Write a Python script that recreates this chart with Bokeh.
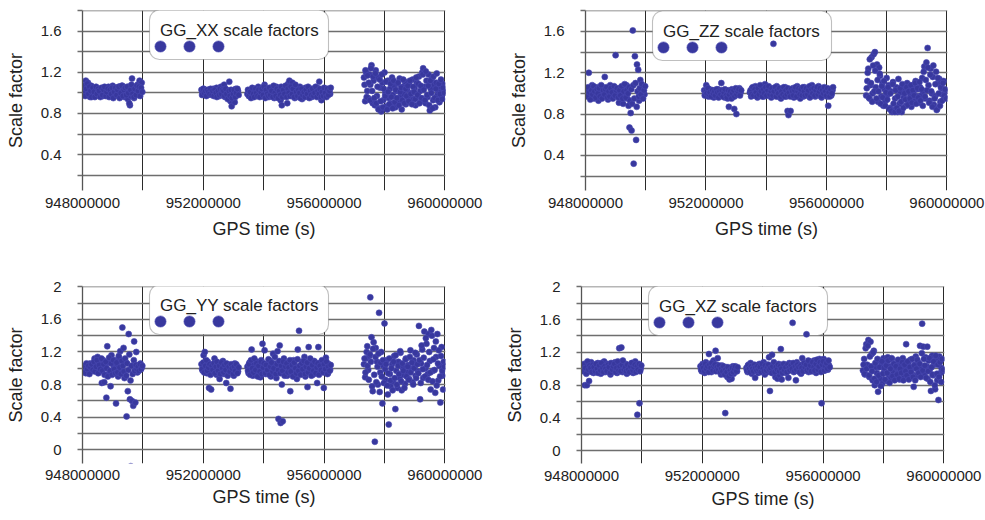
from bokeh.plotting import figure
from bokeh.layouts import column, row
from bokeh.models import (ColumnDataSource, FixedTicker, BasicTickFormatter, Legend,
                          LegendItem, Label, BoxAnnotation, Range1d)
from bokeh.embed import file_html
from bokeh.resources import INLINE

FONT = "Liberation Sans"
TEXT = "#222222"
DOT_FILL = "#38389e"
DOT_LINE = "#4a4ab2"

# ---------------- data ----------------
# GPS time of each scale-factor estimate, in units of 1e6 s.
# Four data segments (a-d), each with two interleaved sets of estimates.
time_a = [948.04, 948.08, 948.11, 948.15, 948.18, 948.22, 948.25, 948.29, 948.32, 948.36,
          948.40, 948.43, 948.47, 948.50, 948.54, 948.57, 948.61, 948.64, 948.68, 948.72,
          948.75, 948.79, 948.82, 948.86, 948.89, 948.93, 948.96, 949.00, 949.04, 949.07,
          949.11, 949.14, 949.18, 949.21, 949.25, 949.28, 949.32, 949.36, 949.39, 949.43,
          949.46, 949.50, 949.53, 949.57, 949.60, 949.64, 949.68, 949.71, 949.75, 949.78,
          949.82, 949.85, 949.89, 949.92, 949.96]
time_b = [951.94, 951.98, 952.01, 952.05, 952.08, 952.12, 952.15, 952.19, 952.22, 952.26,
          952.30, 952.33, 952.37, 952.40, 952.44, 952.47, 952.51, 952.54, 952.58, 952.62,
          952.65, 952.69, 952.72, 952.76, 952.79, 952.83, 952.86, 952.90, 952.94, 952.97,
          953.01, 953.04, 953.08, 953.11, 953.15]
time_c = [953.46, 953.50, 953.53, 953.57, 953.60, 953.64, 953.67, 953.71, 953.75, 953.78,
          953.82, 953.85, 953.89, 953.92, 953.96, 953.99, 954.03, 954.07, 954.10, 954.14,
          954.17, 954.21, 954.24, 954.28, 954.31, 954.35, 954.39, 954.42, 954.46, 954.49,
          954.53, 954.56, 954.60, 954.63, 954.67, 954.71, 954.74, 954.78, 954.81, 954.85,
          954.88, 954.92, 954.95, 954.99, 955.03, 955.06, 955.10, 955.13, 955.17, 955.20,
          955.24, 955.27, 955.31, 955.35, 955.38, 955.42, 955.45, 955.49, 955.52, 955.56,
          955.59, 955.63, 955.67, 955.70, 955.74, 955.77, 955.81, 955.84, 955.88, 955.91,
          955.95, 955.99, 956.02, 956.06, 956.09, 956.13, 956.16, 956.20]
time_d = [957.32, 957.36, 957.39, 957.43, 957.46, 957.50, 957.53, 957.57, 957.61, 957.64,
          957.68, 957.71, 957.75, 957.78, 957.82, 957.86, 957.89, 957.93, 957.96, 958.00,
          958.03, 958.07, 958.11, 958.14, 958.18, 958.21, 958.25, 958.28, 958.32, 958.36,
          958.39, 958.43, 958.46, 958.50, 958.53, 958.57, 958.61, 958.64, 958.68, 958.71,
          958.75, 958.78, 958.82, 958.86, 958.89, 958.93, 958.96, 959.00, 959.03, 959.07,
          959.11, 959.14, 959.18, 959.21, 959.25, 959.28, 959.32, 959.36, 959.39, 959.43,
          959.46, 959.50, 959.53, 959.57, 959.61, 959.64, 959.68, 959.71, 959.75, 959.78,
          959.82, 959.85, 959.89, 959.92, 959.96]
time_a2 = [948.06, 948.09, 948.13, 948.16, 948.20, 948.23, 948.27, 948.30, 948.34, 948.38,
           948.41, 948.45, 948.48, 948.52, 948.55, 948.59, 948.63, 948.66, 948.70, 948.73,
           948.77, 948.80, 948.84, 948.88, 948.91, 948.95, 948.98, 949.02, 949.05, 949.09,
           949.13, 949.16, 949.20, 949.23, 949.27, 949.30, 949.34, 949.37, 949.41, 949.45,
           949.48, 949.52, 949.55, 949.59, 949.62, 949.66, 949.70, 949.73, 949.77, 949.80,
           949.84, 949.87, 949.91, 949.94, 949.98]
time_b2 = [951.96, 952.00, 952.03, 952.07, 952.10, 952.13, 952.17, 952.21, 952.24, 952.28,
           952.31, 952.35, 952.38, 952.42, 952.45, 952.49, 952.53, 952.56, 952.60, 952.63,
           952.67, 952.70, 952.74, 952.77, 952.81, 952.85, 952.88, 952.92, 952.95, 952.99,
           953.02, 953.06, 953.09, 953.13, 953.17]
time_c2 = [953.48, 953.51, 953.55, 953.58, 953.62, 953.66, 953.69, 953.73, 953.76, 953.80,
           953.83, 953.87, 953.91, 953.94, 953.98, 954.01, 954.05, 954.08, 954.12, 954.16,
           954.19, 954.22, 954.26, 954.30, 954.33, 954.37, 954.40, 954.44, 954.48, 954.51,
           954.55, 954.58, 954.62, 954.65, 954.69, 954.72, 954.76, 954.80, 954.83, 954.87,
           954.90, 954.94, 954.97, 955.01, 955.05, 955.08, 955.12, 955.15, 955.19, 955.22,
           955.26, 955.29, 955.33, 955.37, 955.40, 955.44, 955.47, 955.51, 955.54, 955.58,
           955.61, 955.65, 955.69, 955.72, 955.76, 955.79, 955.83, 955.86, 955.90, 955.93,
           955.97, 956.00, 956.04, 956.08, 956.11, 956.14, 956.18, 956.22]
time_d2 = [957.34, 957.37, 957.41, 957.44, 957.48, 957.52, 957.55, 957.59, 957.62, 957.66,
           957.70, 957.73, 957.77, 957.80, 957.84, 957.87, 957.91, 957.95, 957.98, 958.02,
           958.05, 958.09, 958.12, 958.16, 958.20, 958.23, 958.27, 958.30, 958.34, 958.37,
           958.41, 958.45, 958.48, 958.52, 958.55, 958.59, 958.62, 958.66, 958.70, 958.73,
           958.77, 958.80, 958.84, 958.87, 958.91, 958.95, 958.98, 959.02, 959.05, 959.09,
           959.12, 959.16, 959.20, 959.23, 959.27, 959.30, 959.34, 959.37, 959.41, 959.45,
           959.48, 959.52, 959.55, 959.59, 959.62, 959.66, 959.70, 959.73, 959.77, 959.80,
           959.84, 959.87, 959.91, 959.94, 959.98]

# GG_XX scale factors
xx_a = [1.00, 1.05, 1.12, 0.98, 1.10, 1.03, 0.96, 1.07, 1.01, 0.99,
        1.04, 0.97, 1.02, 1.00, 0.98, 1.01, 0.99, 1.03, 0.97, 1.00,
        1.02, 1.05, 0.98, 1.06, 1.00, 1.04, 0.97, 1.07, 1.02, 0.99,
        1.05, 1.01, 0.97, 1.06, 1.03, 0.99, 1.07, 1.00, 0.96, 1.04,
        1.02, 0.94, 1.06, 0.88, 0.97, 1.14, 1.03, 0.95, 1.05, 1.00,
        1.08, 0.98, 1.12, 1.03, 1.10]
xx_b = [1.03, 1.00, 1.04, 0.99, 1.02, 1.01, 0.98, 1.03, 1.00, 1.02,
        0.99, 1.04, 1.01, 0.98, 1.05, 1.00, 1.03, 0.97, 1.06, 1.01,
        0.99, 1.08, 0.96, 1.03, 1.00, 0.95, 1.11, 0.92, 0.87, 1.02,
        0.98, 0.91, 1.04, 0.99, 1.02]
xx_c = [0.99, 1.02, 0.97, 1.03, 1.00, 0.96, 1.04, 1.01, 0.98, 1.02,
        1.06, 0.99, 1.03, 0.97, 1.05, 1.00, 1.08, 0.98, 1.02, 1.04,
        0.96, 1.01, 1.05, 0.99, 1.03, 0.95, 1.02, 1.06, 0.98, 1.00,
        1.04, 0.93, 0.88, 1.01, 0.97, 1.05, 1.02, 0.90, 1.09, 1.12,
        1.03, 0.97, 1.10, 1.00, 0.95, 1.04, 0.99, 1.02, 0.96, 1.06,
        1.00, 0.94, 1.03, 0.98, 1.05, 1.01, 0.97, 1.02, 0.99, 1.04,
        0.96, 1.01, 1.03, 0.98, 1.00, 1.05, 0.97, 1.11, 1.02, 0.93,
        1.01, 0.99, 1.04, 0.97, 1.02, 1.00, 1.03, 0.99]
xx_d = [1.15, 0.92, 1.20, 1.02, 0.95, 1.18, 1.08, 1.27, 0.90, 1.12,
        0.88, 1.22, 0.97, 1.15, 0.85, 1.05, 0.82, 1.10, 0.93, 1.20,
        1.00, 0.87, 1.12, 0.95, 1.04, 0.90, 1.15, 0.98, 1.07, 0.86,
        1.02, 1.09, 0.92, 1.14, 0.97, 0.84, 1.06, 0.99, 1.11, 0.89,
        1.03, 0.95, 1.08, 0.91, 1.00, 1.13, 0.94, 1.05, 0.88, 1.10,
        0.97, 1.16, 1.02, 0.92, 1.20, 1.24, 1.06, 0.90, 1.12, 0.96,
        1.18, 0.83, 1.04, 1.14, 0.93, 1.08, 0.86, 1.10, 0.98, 1.02,
        0.91, 1.06, 0.97, 1.09, 1.01]
xx_a2 = [1.07, 0.97, 1.04, 1.09, 0.99, 1.06, 1.02, 0.96, 1.05, 1.01,
         0.96, 1.06, 0.99, 1.04, 1.02, 0.96, 1.05, 0.98, 1.03, 1.06,
         0.97, 1.01, 1.04, 0.96, 1.03, 0.99, 1.05, 0.95, 1.01, 1.05,
         0.98, 1.03, 1.06, 0.95, 1.00, 1.07, 0.97, 1.03, 1.05, 0.98,
         1.06, 1.00, 0.90, 1.03, 1.08, 0.99, 0.96, 1.04, 0.98, 1.07,
         1.02, 1.06, 0.97, 1.05, 1.01]
xx_b2 = [0.98, 1.04, 1.00, 1.02, 0.97, 1.03, 1.01, 0.99, 1.04, 0.98,
         1.02, 0.97, 1.03, 1.00, 0.96, 1.02, 0.98, 1.04, 0.99, 1.03,
         1.02, 0.97, 1.04, 0.99, 0.94, 1.02, 0.97, 1.03, 0.95, 0.99,
         1.03, 0.96, 1.00, 1.04, 0.98]
xx_c2 = [1.03, 0.97, 1.01, 0.95, 1.05, 0.99, 0.96, 1.04, 1.00, 0.97,
         1.03, 0.96, 1.01, 1.04, 0.98, 1.06, 0.95, 1.03, 0.99, 0.97,
         1.05, 0.98, 1.02, 0.96, 1.07, 1.00, 0.97, 1.04, 0.95, 1.02,
         0.98, 1.06, 0.96, 1.03, 0.99, 1.07, 0.96, 1.04, 1.00, 0.97,
         1.06, 0.99, 1.04, 0.96, 1.08, 1.01, 0.97, 1.03, 1.00, 0.95,
         1.04, 0.98, 1.01, 0.96, 1.03, 0.99, 1.06, 0.95, 1.02, 0.98,
         1.04, 0.97, 1.00, 1.06, 0.96, 1.02, 0.99, 1.04, 0.96, 1.01,
         0.97, 1.05, 1.00, 0.96, 1.04, 0.98, 1.02, 1.05]
xx_d2 = [1.08, 1.22, 0.96, 1.17, 1.10, 0.93, 1.24, 1.02, 1.16, 0.95,
         1.19, 0.90, 1.06, 0.84, 1.13, 0.92, 1.18, 0.86, 1.04, 0.97,
         1.11, 0.84, 1.01, 0.89, 1.09, 0.96, 0.85, 1.12, 0.91, 1.03,
         0.95, 1.10, 0.88, 1.01, 1.05, 0.93, 1.13, 0.90, 1.04, 0.97,
         1.07, 0.92, 1.12, 0.99, 0.89, 1.06, 1.01, 0.94, 1.15, 0.98,
         1.09, 0.90, 1.07, 0.95, 1.18, 1.03, 0.93, 1.21, 0.98, 1.07,
         0.88, 1.12, 1.00, 0.85, 1.16, 0.95, 1.04, 1.19, 0.93, 1.09,
         0.99, 1.13, 0.94, 1.05, 1.00]

# GG_ZZ scale factors
zz_a = [1.02, 0.98, 1.20, 1.05, 0.97, 1.08, 1.01, 0.95, 1.04, 0.99,
        1.06, 0.93, 1.02, 1.00, 1.07, 0.97, 1.03, 1.16, 0.99, 1.05,
        0.94, 1.01, 1.08, 0.96, 1.03, 1.00, 1.06, 1.37, 0.98, 1.02,
        0.91, 1.05, 0.99, 1.04, 0.90, 1.01, 0.97, 1.08, 0.95, 0.88,
        0.67, 0.81, 0.64, 1.61, 0.32, 1.36, 0.55, 1.28, 1.23, 0.93,
        1.13, 0.97, 1.05, 1.01, 0.99]
zz_b = [1.03, 0.99, 1.08, 1.01, 0.97, 1.04, 1.00, 0.98, 1.03, 0.96,
        1.02, 1.00, 0.97, 1.04, 0.99, 1.01, 1.10, 0.98, 1.03, 0.96,
        1.00, 1.02, 0.95, 0.87, 1.01, 0.98, 1.04, 0.97, 0.85, 1.00,
        0.80, 1.03, 0.99, 1.05, 1.01]
zz_c = [1.01, 0.97, 1.05, 1.02, 0.99, 1.07, 1.00, 0.96, 1.04, 1.01,
        0.98, 1.06, 1.02, 0.97, 1.09, 1.00, 1.03, 0.98, 1.05, 1.01,
        0.96, 1.04, 1.48, 0.99, 1.02, 1.07, 0.97, 1.03, 1.00, 0.95,
        1.04, 0.98, 1.01, 1.06, 0.97, 0.83, 0.79, 1.02, 0.83, 0.99,
        1.05, 0.96, 1.03, 1.00, 1.07, 0.98, 1.02, 0.95, 1.04, 1.01,
        0.97, 1.06, 1.00, 1.03, 0.98, 1.05, 0.96, 1.02, 1.08, 0.99,
        1.01, 0.97, 1.04, 1.00, 1.07, 0.98, 1.03, 0.96, 1.05, 1.01,
        0.99, 1.04, 0.97, 0.88, 1.02, 1.00, 0.98, 1.03]
zz_d = [0.98, 1.12, 1.24, 0.95, 1.08, 1.35, 1.00, 1.38, 1.40, 1.06,
        1.28, 0.92, 1.25, 1.17, 0.97, 1.10, 0.88, 1.04, 0.93, 1.15,
        0.99, 1.08, 0.86, 1.02, 0.82, 1.11, 0.84, 0.95, 1.06, 0.82,
        1.14, 0.90, 1.01, 0.82, 1.07, 0.96, 1.03, 0.88, 1.10, 0.94,
        1.05, 0.99, 0.87, 1.08, 1.01, 0.93, 1.12, 0.97, 1.04, 0.91,
        1.06, 0.98, 1.15, 1.02, 1.26, 0.95, 1.30, 1.44, 1.08, 0.93,
        1.24, 1.00, 1.16, 0.89, 0.97, 1.21, 0.85, 1.10, 1.14, 0.92,
        1.05, 0.99, 1.12, 0.96, 1.02]
zz_a2 = [0.97, 1.06, 1.01, 0.94, 1.03, 0.99, 1.07, 1.02, 0.96, 1.04,
         1.00, 1.05, 0.97, 1.08, 0.95, 1.03, 0.99, 1.04, 1.06, 0.96,
         1.02, 0.97, 1.05, 1.01, 0.95, 1.07, 0.98, 1.03, 1.05, 0.96,
         1.03, 0.98, 1.07, 0.95, 1.02, 1.09, 0.96, 1.03, 1.00, 1.06,
         0.93, 1.04, 0.90, 1.08, 0.95, 1.10, 0.87, 1.02, 0.97, 1.05,
         0.99, 1.09, 0.95, 1.03, 1.07]
zz_b2 = [0.98, 1.02, 1.00, 1.05, 0.99, 1.01, 0.97, 1.03, 1.00, 1.02,
         0.98, 1.04, 1.01, 0.96, 1.02, 0.99, 1.03, 0.97, 1.01, 1.04,
         0.98, 0.96, 1.03, 0.99, 1.02, 0.95, 1.00, 1.03, 0.97, 1.05,
         0.99, 1.02, 1.04, 0.98, 1.03]
zz_c2 = [1.03, 0.99, 1.06, 0.98, 1.04, 1.01, 0.97, 1.05, 0.99, 1.08,
         1.02, 0.97, 1.04, 1.00, 1.06, 0.98, 1.03, 1.07, 0.99, 1.02,
         1.05, 0.98, 1.02, 1.06, 0.97, 1.03, 1.00, 1.05, 0.97, 1.02,
         0.99, 1.06, 0.97, 1.03, 0.99, 1.05, 1.01, 0.97, 1.04, 1.02,
         0.98, 1.03, 1.06, 0.97, 1.02, 1.05, 0.99, 1.04, 0.98, 1.06,
         1.02, 0.98, 1.05, 0.99, 1.03, 1.07, 0.97, 1.04, 1.00, 1.05,
         0.98, 1.03, 1.06, 0.99, 1.02, 1.05, 0.97, 1.03, 1.00, 1.06,
         1.02, 0.98, 1.05, 1.01, 0.97, 1.04, 1.00, 1.06]
zz_d2 = [1.05, 1.20, 0.96, 1.33, 1.10, 0.92, 1.27, 1.02, 1.22, 0.95,
         1.13, 1.02, 1.19, 0.90, 1.07, 0.96, 1.12, 0.88, 1.01, 0.94,
         1.06, 0.85, 1.00, 0.83, 1.09, 0.90, 0.82, 1.03, 0.86, 0.97,
         0.83, 1.05, 0.92, 1.09, 0.86, 1.00, 0.94, 1.06, 0.89, 1.02,
         0.95, 1.08, 0.91, 1.03, 0.98, 1.10, 0.90, 1.05, 0.96, 1.11,
         0.93, 1.04, 0.88, 1.21, 0.97, 1.13, 1.03, 1.25, 0.91, 1.18,
         1.02, 0.87, 1.27, 0.95, 1.09, 0.84, 1.15, 1.00, 0.88, 1.06,
         0.93, 1.10, 0.98, 1.04, 0.95]

# GG_YY scale factors
yy_a = [0.98, 1.03, 0.94, 1.05, 1.00, 0.96, 1.06, 1.01, 0.97, 1.04,
        1.12, 0.99, 1.05, 1.14, 0.95, 1.08, 1.02, 0.82, 1.10, 0.83,
        1.04, 0.64, 1.27, 0.93, 1.07, 0.78, 1.16, 0.96, 1.02, 1.10,
        0.57, 1.05, 0.90, 1.13, 1.21, 0.97, 1.50, 1.25, 0.88, 1.08,
        0.41, 0.72, 1.42, 0.62, -0.20, 0.60, 0.54, 1.33, 0.58, 1.20,
        0.95, 1.04, 0.99, 1.06, 1.01]
yy_b = [1.05, 0.97, 1.16, 1.20, 1.02, 0.94, 1.08, 0.76, 1.00, 0.74,
        1.04, 0.96, 1.12, 0.99, 0.92, 1.06, 1.01, 0.87, 1.03, 0.97,
        1.09, 0.93, 1.00, 0.82, 1.05, 0.95, 1.02, 0.75, 0.98, 1.04,
        0.91, 1.06, 0.99, 1.03, 0.96]
yy_c = [1.02, 0.94, 1.07, 0.98, 1.23, 0.91, 1.04, 1.00, 0.95, 1.08,
        0.97, 1.03, 0.89, 1.10, 1.30, 0.99, 1.22, 0.93, 1.05, 1.01,
        0.96, 1.09, 0.90, 1.04, 1.18, 0.98, 1.06, 0.88, 1.21, 0.38,
        1.28, 0.33, 0.80, 0.35, 1.12, 0.95, 1.03, 0.91, 1.07, 0.99,
        0.72, 1.05, 0.93, 1.10, 0.97, 1.02, 0.87, 1.23, 1.46, 1.00,
        0.94, 1.08, 0.98, 1.14, 0.90, 1.03, 0.77, 1.26, 0.96, 1.06,
        1.01, 0.92, 1.09, 0.97, 1.04, 0.82, 1.26, 0.95, 1.07, 0.99,
        1.03, 0.76, 0.96, 1.13, 1.00, 0.94, 1.05, 0.98]
yy_d = [1.05, 0.89, 1.12, 1.27, 0.98, 1.15, 1.87, 1.38, 0.72, 1.32,
        0.10, 1.25, 1.08, 0.80, 1.68, 0.95, 1.20, 0.57, 1.03, 1.55,
        0.86, 1.10, 0.68, 0.31, 0.93, 0.78, 1.05, 0.84, 1.15, 0.50,
        0.97, 0.76, 1.08, 0.88, 1.19, 0.73, 1.01, 0.92, 0.81, 1.12,
        0.95, 1.04, 0.87, 1.22, 0.99, 0.83, 1.10, 1.02, 0.91, 1.17,
        0.96, 1.52, 0.62, 1.06, 1.23, 0.88, 1.45, 1.00, 1.30, 0.93,
        1.42, 1.09, 0.74, 1.40, 0.97, 1.25, 0.70, 1.14, 1.42, 0.85,
        1.03, 0.58, 1.26, 0.91, 1.08]
yy_a2 = [1.02, 0.95, 1.06, 0.99, 1.03, 0.93, 1.01, 1.05, 0.98, 1.08,
         0.96, 1.02, 1.10, 0.94, 1.04, 0.99, 1.12, 0.97, 1.05, 0.92,
         1.08, 1.00, 0.90, 1.13, 0.97, 1.06, 0.92, 1.10, 0.99, 0.94,
         1.07, 0.95, 1.15, 1.01, 0.93, 1.09, 1.03, 0.96, 1.12, 0.91,
         1.06, 0.98, 1.17, 0.85, 1.03, 0.93, 1.10, 0.97, 1.04, 0.99,
         1.02, 0.97, 1.05, 0.99, 1.03]
yy_b2 = [0.99, 1.07, 0.95, 1.03, 1.10, 0.97, 1.01, 1.05, 0.92, 1.03,
         0.98, 1.06, 0.94, 1.02, 1.08, 0.97, 1.03, 0.93, 1.07, 1.00,
         0.95, 1.04, 0.98, 1.06, 0.91, 1.02, 0.96, 1.05, 1.00, 0.93,
         1.02, 0.97, 1.05, 0.94, 1.01]
yy_c2 = [0.97, 1.05, 0.92, 1.10, 1.00, 0.95, 1.12, 0.98, 1.06, 0.90,
         1.03, 0.96, 1.08, 0.93, 1.01, 1.06, 0.94, 1.04, 0.98, 1.11,
         0.92, 1.02, 1.07, 0.96, 1.00, 1.14, 0.93, 1.05, 0.98, 1.09,
         0.94, 1.03, 0.97, 1.08, 0.91, 1.02, 1.06, 0.95, 1.01, 1.10,
         0.96, 1.04, 0.90, 1.07, 1.00, 0.94, 1.11, 0.97, 1.03, 0.92,
         1.06, 0.99, 1.09, 0.93, 1.02, 1.07, 0.95, 1.00, 1.12, 0.91,
         1.04, 0.97, 1.08, 0.94, 1.01, 1.06, 0.92, 1.03, 0.98, 1.10,
         0.95, 1.05, 0.99, 1.08, 0.93, 1.02, 0.97, 1.04]
yy_d2 = [1.12, 0.95, 1.20, 1.03, 0.86, 1.17, 1.08, 0.78, 1.24, 0.92,
         1.14, 0.83, 1.02, 1.18, 0.71, 1.07, 0.90, 1.10, 0.82, 0.99,
         1.05, 0.79, 0.94, 1.12, 0.85, 1.00, 0.73, 1.08, 0.88, 1.16,
         0.80, 1.03, 0.93, 1.21, 0.84, 1.06, 0.97, 0.76, 1.11, 0.90,
         1.02, 0.86, 1.14, 0.95, 1.07, 0.80, 1.00, 1.19, 0.88, 1.05,
         0.94, 1.10, 0.82, 1.28, 0.99, 1.13, 0.90, 1.37, 1.04, 0.86,
         1.20, 0.95, 1.47, 0.84, 1.11, 0.98, 1.33, 0.79, 1.06, 1.22,
         0.90, 1.15, 0.97, 0.74, 1.02]

# GG_XZ scale factors
xz_a = [1.02, 0.98, 0.80, 1.06, 0.80, 1.03, 0.85, 0.97, 1.08, 1.00,
        0.95, 1.04, 1.01, 0.97, 1.07, 0.99, 1.03, 0.94, 1.05, 1.00,
        1.09, 0.96, 1.02, 1.06, 0.98, 1.01, 0.93, 1.04, 1.00, 0.97,
        1.08, 1.02, 0.95, 1.05, 1.25, 1.00, 1.26, 0.96, 1.03, 0.99,
        1.06, 0.94, 1.01, 1.04, 0.97, 1.00, 1.07, 0.95, 1.02, 1.09,
        0.98, 0.44, 1.03, 0.58, 1.00]
xz_b = [1.03, 0.97, 1.06, 1.00, 0.95, 1.08, 1.01, 0.98, 1.18, 1.04,
        0.96, 1.02, 1.10, 0.99, 1.22, 1.05, 1.13, 0.97, 1.01, 0.93,
        1.04, 0.98, 0.95, 0.46, 1.02, 0.90, 0.96, 0.87, 1.00, 0.88,
        1.03, 0.94, 0.99, 1.01, 0.97]
xz_c = [1.01, 0.96, 1.05, 0.99, 1.07, 0.94, 1.02, 0.98, 0.89, 1.04,
        1.00, 0.95, 1.06, 0.97, 1.03, 0.99, 1.08, 0.93, 1.01, 1.05,
        0.96, 1.14, 0.73, 1.02, 1.17, 0.97, 1.04, 0.90, 1.00, 0.88,
        1.06, 0.92, 1.24, 0.87, 1.03, 0.98, 1.05, 0.95, 1.01, 0.89,
        1.07, 0.99, 1.04, 1.56, 0.96, 1.02, 0.86, 1.08, 1.00, 0.97,
        1.05, 0.94, 1.13, 1.01, 1.06, 0.98, 1.42, 1.03, 0.96, 1.09,
        1.00, 1.04, 0.97, 1.10, 1.02, 0.95, 1.07, 0.99, 1.12, 1.03,
        0.58, 1.05, 1.12, 0.98, 1.06, 1.01, 0.99, 1.04]
xz_d = [0.98, 1.12, 0.93, 1.30, 1.05, 1.35, 0.90, 1.33, 1.18, 0.86,
        1.22, 0.80, 1.02, 0.95, 0.72, 1.10, 0.88, 1.05, 0.82, 1.13,
        0.97, 1.08, 0.85, 1.14, 0.92, 1.03, 0.89, 1.12, 0.96, 1.06,
        0.90, 1.01, 0.94, 1.09, 0.87, 1.04, 0.98, 1.13, 0.91, 1.02,
        1.30, 0.95, 1.07, 0.89, 1.11, 0.99, 0.93, 0.78, 1.05, 1.15,
        0.92, 1.08, 0.96, 1.28, 1.01, 1.55, 1.27, 0.94, 1.14, 1.03,
        0.88, 1.10, 0.99, 0.73, 1.16, 0.92, 1.05, 0.75, 1.12, 0.86,
        0.62, 1.15, 0.95, 1.01, 0.97]
xz_a2 = [0.97, 1.06, 1.01, 0.94, 1.09, 0.99, 1.04, 1.01, 0.96, 1.05,
         1.02, 0.97, 1.06, 1.00, 0.95, 1.04, 0.98, 1.07, 1.01, 0.96,
         1.03, 1.00, 0.97, 1.05, 1.02, 0.95, 1.07, 0.99, 1.03, 1.06,
         0.96, 1.01, 1.09, 0.98, 1.03, 0.97, 1.05, 1.10, 0.99, 1.02,
         0.97, 1.05, 0.99, 0.96, 1.03, 1.07, 0.98, 1.02, 1.05, 0.96,
         1.03, 0.99, 1.06, 0.97, 1.04]
xz_b2 = [0.99, 1.04, 1.01, 0.97, 1.06, 1.00, 1.03, 0.96, 1.05, 1.01,
         1.07, 0.98, 1.03, 1.05, 0.97, 1.02, 0.99, 1.04, 0.96, 1.00,
         0.97, 1.03, 0.93, 0.99, 0.96, 1.02, 0.91, 0.98, 0.94, 1.01,
         0.96, 1.00, 1.03, 0.97, 1.02]
xz_c2 = [0.98, 1.04, 1.00, 0.96, 1.03, 1.00, 0.97, 1.05, 1.01, 0.98,
         1.03, 0.99, 1.02, 0.96, 1.06, 1.00, 0.97, 1.04, 0.98, 1.02,
         1.05, 0.99, 1.01, 0.95, 1.03, 1.08, 0.96, 1.02, 0.99, 1.05,
         0.97, 1.03, 1.00, 0.95, 1.06, 0.98, 1.02, 0.96, 1.05, 1.01,
         0.98, 1.04, 1.00, 1.07, 0.97, 1.03, 0.99, 1.05, 1.02, 0.96,
         1.04, 1.01, 0.97, 1.07, 1.02, 1.05, 0.98, 1.10, 1.00, 1.04,
         0.97, 1.08, 1.02, 0.98, 1.06, 1.11, 0.99, 1.03, 1.08, 0.96,
         1.05, 1.09, 0.98, 1.03, 1.07, 1.00, 1.10, 1.02]
xz_d2 = [1.05, 0.94, 1.25, 1.00, 1.28, 0.92, 1.15, 1.03, 0.97, 1.20,
         0.88, 1.07, 0.84, 1.12, 0.92, 1.02, 0.79, 1.09, 0.94, 1.01,
         0.87, 1.04, 0.95, 1.10, 0.83, 1.00, 1.13, 0.91, 1.06, 0.86,
         1.03, 0.93, 1.11, 0.88, 1.00, 0.95, 1.08, 0.86, 1.05, 0.97,
         0.92, 1.09, 0.87, 1.02, 0.96, 1.12, 0.90, 1.04, 0.86, 1.00,
         1.11, 0.95, 1.06, 0.90, 1.19, 0.98, 1.12, 1.04, 0.89, 1.27,
         0.97, 1.13, 0.84, 1.02, 0.93, 1.09, 0.80, 1.16, 0.94, 1.05,
         0.90, 1.08, 0.84, 1.12, 0.99]

# ticks
x_major = [948000000, 952000000, 956000000, 960000000]
x_minor = [950000000, 954000000, 958000000]
y_major_top = [0.4, 0.8, 1.2, 1.6]
y_minor_top = [0.2, 0.6, 1.0, 1.4, 1.8]
y_major_bottom = [0, 0.4, 0.8, 1.2, 1.6, 2.0]
y_minor_bottom = [0.2, 0.6, 1.0, 1.4, 1.8]
bottom_label_overrides = {0: "0", 2: "2"}

gps_time_Ms = (time_a + time_b + time_c + time_d +
               time_a2 + time_b2 + time_c2 + time_d2)
gg_xx = xx_a + xx_b + xx_c + xx_d + xx_a2 + xx_b2 + xx_c2 + xx_d2
gg_zz = zz_a + zz_b + zz_c + zz_d + zz_a2 + zz_b2 + zz_c2 + zz_d2
gg_yy = yy_a + yy_b + yy_c + yy_d + yy_a2 + yy_b2 + yy_c2 + yy_d2
gg_xz = xz_a + xz_b + xz_c + xz_d + xz_a2 + xz_b2 + xz_c2 + xz_d2


def panel(values, title, y_lo, y_hi, y_major, y_minor, width, height,
          b_left, b_right, b_top, b_bottom, x_standoff, x_label_standoff,
          overrides=None):
    frame_h = height - b_top - b_bottom
    p = figure(width=width, height=height, output_backend="svg", toolbar_location=None,
               tools="", x_range=Range1d(948000000, 960020000), y_range=Range1d(y_lo, y_hi),
               min_border_left=b_left, min_border_right=b_right,
               min_border_top=b_top, min_border_bottom=b_bottom,
               outline_line_color=None, background_fill_color="white",
               border_fill_color="white")

    xt = FixedTicker(ticks=x_major, minor_ticks=x_minor)
    yt = FixedTicker(ticks=y_major, minor_ticks=y_minor)

    xa = p.xaxis[0]
    xa.ticker = xt
    xa.formatter = BasicTickFormatter(use_scientific=False)
    xa.axis_line_color = None
    xa.major_tick_line_color = None
    xa.minor_tick_line_color = None
    xa.major_tick_out = 0
    xa.major_tick_in = 0
    xa.minor_tick_out = 0
    xa.minor_tick_in = 0
    xa.major_label_standoff = x_standoff
    xa.major_label_text_font = FONT
    xa.major_label_text_font_size = "15px"
    xa.major_label_text_color = TEXT
    xa.axis_label = "GPS time (s)"
    xa.axis_label_standoff = x_label_standoff
    xa.axis_label_text_font = FONT
    xa.axis_label_text_font_size = "18px"
    xa.axis_label_text_font_style = "normal"
    xa.axis_label_text_color = TEXT

    ya = p.yaxis[0]
    ya.ticker = yt
    ya.axis_line_color = "#555555"
    ya.axis_line_width = 1.3
    ya.major_tick_out = 5
    ya.major_tick_in = 0
    ya.minor_tick_out = 5
    ya.minor_tick_in = 0
    ya.major_tick_line_color = "#6e6e6e"
    ya.minor_tick_line_color = "#6e6e6e"
    ya.major_tick_line_width = 1.3
    ya.minor_tick_line_width = 1.3
    ya.major_label_standoff = 16
    ya.major_label_text_font = FONT
    ya.major_label_text_font_size = "15px"
    ya.major_label_text_color = TEXT
    if overrides:
        ya.major_label_overrides = overrides
    ya.axis_label = "Scale factor"
    ya.axis_label_standoff = 12
    ya.axis_label_text_font = FONT
    ya.axis_label_text_font_size = "18px"
    ya.axis_label_text_font_style = "normal"
    ya.axis_label_text_color = TEXT

    xg = p.xgrid[0]
    xg.ticker = xt
    xg.grid_line_color = "#2a2a2a"
    xg.grid_line_width = 1
    xg.minor_grid_line_color = "#2a2a2a"
    xg.minor_grid_line_width = 1
    yg = p.ygrid[0]
    yg.ticker = yt
    yg.grid_line_color = "#6e6e6e"
    yg.grid_line_width = 1.3
    yg.minor_grid_line_color = "#6e6e6e"
    yg.minor_grid_line_width = 1.3

    # legend box (under the data, above the grid)
    box = BoxAnnotation(left=67, right=246, top=frame_h - 0.5, bottom=frame_h - 50,
                        left_units="screen", right_units="screen",
                        top_units="screen", bottom_units="screen",
                        fill_color="white", fill_alpha=1.0, line_color="#2a2a2a",
                        line_width=1.1, border_radius=10, level="underlay")
    p.add_layout(box)

    src = ColumnDataSource(dict(t=[v * 1e6 for v in gps_time_Ms], v=values))
    r = p.scatter("t", "v", source=src, size=6, fill_color=DOT_FILL,
                  line_color=DOT_LINE, line_width=0.6)

    lab = Label(x=77.5, y=frame_h - 20.5, x_units="screen", y_units="screen",
                text=title, text_font=FONT, text_font_size="17px", text_color=TEXT,
                text_baseline="middle", text_align="left")
    p.add_layout(lab)

    leg = Legend(items=[LegendItem(label="", renderers=[r]) for _ in range(3)],
                 orientation="horizontal", location=(64, frame_h - 50.5),
                 glyph_width=28, glyph_height=28, label_width=0, label_standoff=0,
                 label_height=0, spacing=1, padding=0, margin=0,
                 background_fill_alpha=0, border_line_color=None,
                 label_text_font_size="1px")
    p.add_layout(leg)
    return p


p_xx = panel(gg_xx, "GG_XX scale factors", 0.05, 1.803,
             y_major_top, y_minor_top, 490, 260, 82, 45, 9, 70, 7, 8)
p_zz = panel(gg_zz, "GG_ZZ scale factors", 0.06, 1.803,
             y_major_top, y_minor_top, 495, 260, 95, 38, 10, 70, 7, 8)
p_yy = panel(gg_yy, "GG_YY scale factors", -0.167, 2.003,
             y_major_bottom, y_minor_bottom, 490, 260, 82, 45, 26, 55, 6, 4,
             bottom_label_overrides)
p_xz = panel(gg_xz, "GG_XZ scale factors", -0.154, 2.003,
             y_major_bottom, y_minor_bottom, 495, 260, 91, 41, 25, 57, 7, 5,
             bottom_label_overrides)

layout = column(row(p_xx, p_zz), row(p_yy, p_xz))

open("out.html", "w").write(file_html(layout, INLINE))
